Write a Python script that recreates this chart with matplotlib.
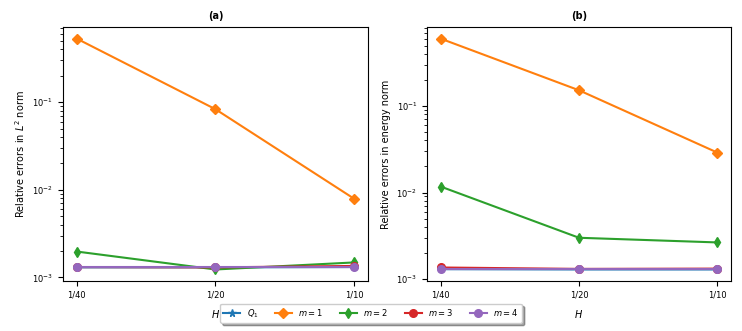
import matplotlib
matplotlib.use("Agg")
import matplotlib.pyplot as plt

H_labels = ["1/40", "1/20", "1/10"]
series_labels = [r"$Q_1$", r"$m=1$", r"$m=2$", r"$m=3$", r"$m=4$"]
markers = ["*", "D", "d", "o", "o"]
colors = ["#1f77b4", "#ff7f0e", "#2ca02c", "#d62728", "#9467bd"]

# (a) relative errors in L2 norm
l2_q1 = [1.30e-3, 1.30e-3, 1.31e-3]
l2_m1 = [0.53, 0.083, 0.0079]
l2_m2 = [1.97e-3, 1.23e-3, 1.48e-3]
l2_m3 = [1.31e-3, 1.30e-3, 1.35e-3]
l2_m4 = [1.30e-3, 1.30e-3, 1.30e-3]

# (b) relative errors in energy norm
en_q1 = [1.30e-3, 1.29e-3, 1.29e-3]
en_m1 = [0.60, 0.152, 0.029]
en_m2 = [0.0117, 3.0e-3, 2.65e-3]
en_m3 = [1.36e-3, 1.31e-3, 1.32e-3]
en_m4 = [1.29e-3, 1.29e-3, 1.29e-3]

fig = plt.figure(figsize=(7.42, 3.31), dpi=100)
axA = fig.add_axes([0.0849, 0.151, 0.411, 0.767])
axB = fig.add_axes([0.5755, 0.151, 0.4097, 0.767])

x = list(range(len(H_labels)))
handles = []
for ax, data, ylabel, title in [
    (axA, [l2_q1, l2_m1, l2_m2, l2_m3, l2_m4], r"Relative errors in $L^2$ norm", "(a)"),
    (axB, [en_q1, en_m1, en_m2, en_m3, en_m4], "Relative errors in energy norm", "(b)"),
]:
    hs = []
    for vals, lab, mk, c in zip(data, series_labels, markers, colors):
        h, = ax.plot(x, vals, marker=mk, color=c, label=lab, lw=1.5, ms=5.5)
        hs.append(h)
    handles = hs
    ax.set_yscale("log")
    ax.set_xticks(x)
    ax.set_xticklabels(H_labels)
    ax.set_xlabel(r"$H$", fontsize=7, labelpad=6)
    ax.set_ylabel(ylabel, fontsize=7)
    ax.set_title(title, fontsize=7, fontweight="bold")
    ax.tick_params(labelsize=6)

fig.legend(handles=handles, loc="lower center", bbox_to_anchor=(0.5, 0.012),
           ncol=5, shadow=True, fontsize=6)
fig.savefig("out.png", dpi=100)
